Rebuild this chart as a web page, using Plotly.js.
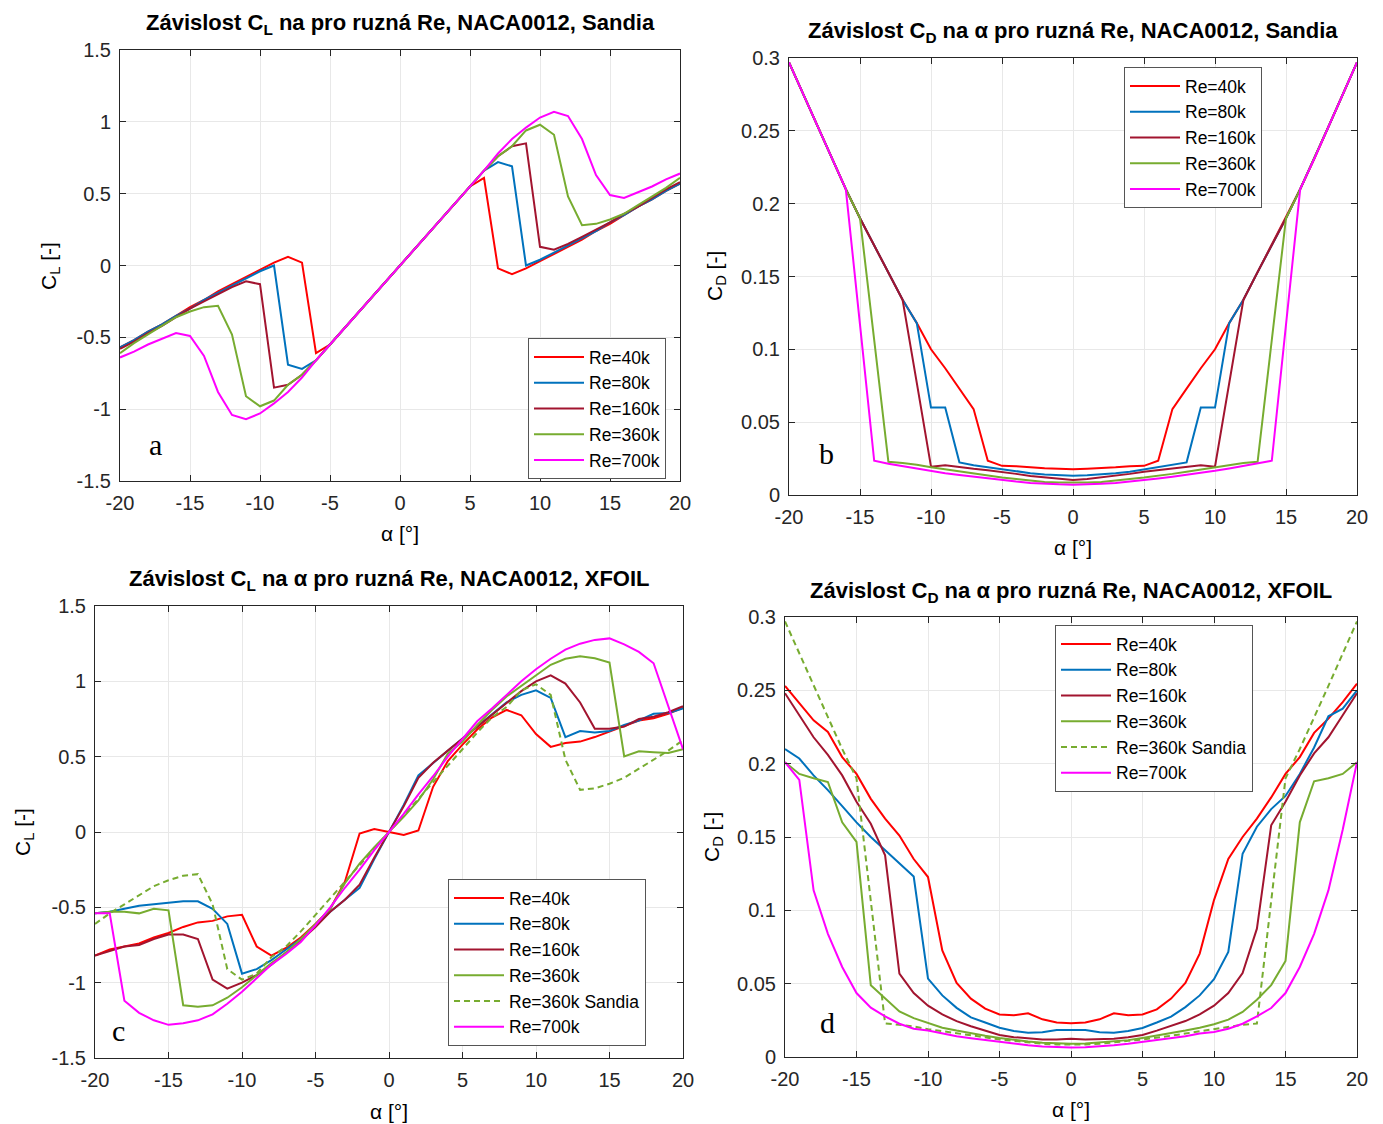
<!DOCTYPE html>
<html><head><meta charset="utf-8">
<script src="https://cdn.plot.ly/plotly-3.0.1.min.js"></script>
<style>body{margin:0;background:#fff}#chart{width:1383px;height:1124px}</style>
</head><body><div id="chart"></div>
<script>
// angle of attack [deg]
const alpha = [-20,-19,-18,-17,-16,-15,-14,-13,-12,-11,-10,-9,-8,-7,-6,-5,-4,-3,-2,-1,0,1,2,3,4,5,6,7,8,9,10,11,12,13,14,15,16,17,18,19,20];

// (a) Sandia CL
const clSandia40k  = [-0.57,-0.52,-0.46,-0.41,-0.35,-0.29,-0.24,-0.18,-0.13,-0.08,-0.03,0.02,0.06,0.02,-0.61,-0.55,-0.44,-0.33,-0.22,-0.11,0,0.11,0.22,0.33,0.44,0.55,0.61,-0.02,-0.06,-0.02,0.03,0.08,0.13,0.18,0.24,0.29,0.35,0.41,0.46,0.52,0.57];
const clSandia80k  = [-0.57,-0.52,-0.46,-0.41,-0.35,-0.30,-0.24,-0.19,-0.14,-0.09,-0.04,0.0,-0.69,-0.72,-0.66,-0.55,-0.44,-0.33,-0.22,-0.11,0,0.11,0.22,0.33,0.44,0.55,0.66,0.72,0.69,0.0,0.04,0.09,0.14,0.19,0.24,0.30,0.35,0.41,0.46,0.52,0.57];
const clSandia160k = [-0.58,-0.53,-0.47,-0.42,-0.36,-0.30,-0.25,-0.20,-0.15,-0.11,-0.13,-0.85,-0.83,-0.76,-0.66,-0.55,-0.44,-0.33,-0.22,-0.11,0,0.11,0.22,0.33,0.44,0.55,0.66,0.76,0.83,0.85,0.13,0.11,0.15,0.20,0.25,0.30,0.36,0.41,0.47,0.53,0.58];
const clSandia360k = [-0.61,-0.54,-0.48,-0.42,-0.36,-0.32,-0.29,-0.28,-0.48,-0.91,-0.98,-0.94,-0.83,-0.76,-0.66,-0.55,-0.44,-0.33,-0.22,-0.11,0,0.11,0.22,0.33,0.44,0.55,0.66,0.76,0.83,0.94,0.98,0.91,0.48,0.28,0.29,0.32,0.36,0.42,0.48,0.54,0.61];
const clSandia700k = [-0.64,-0.60,-0.55,-0.51,-0.47,-0.49,-0.63,-0.88,-1.04,-1.07,-1.03,-0.96,-0.88,-0.78,-0.66,-0.55,-0.44,-0.33,-0.22,-0.11,0,0.11,0.22,0.33,0.44,0.55,0.66,0.78,0.88,0.96,1.03,1.07,1.04,0.88,0.63,0.49,0.47,0.51,0.55,0.60,0.64];

// (b) Sandia CD
const cdSandia40k  = [0.297,0.275,0.253,0.231,0.21,0.19,0.1715,0.153,0.134,0.118,0.100,0.087,0.073,0.059,0.0235,0.020,0.0198,0.019,0.0184,0.018,0.0176,0.018,0.0184,0.019,0.0198,0.020,0.0235,0.059,0.073,0.087,0.100,0.118,0.134,0.153,0.1715,0.19,0.21,0.231,0.253,0.275,0.297];
const cdSandia80k  = [0.297,0.275,0.253,0.231,0.21,0.19,0.1715,0.153,0.134,0.118,0.060,0.060,0.0224,0.0205,0.019,0.0175,0.016,0.015,0.014,0.0135,0.0132,0.0135,0.014,0.015,0.016,0.0175,0.019,0.0205,0.0224,0.060,0.060,0.118,0.134,0.153,0.1715,0.19,0.21,0.231,0.253,0.275,0.297];
const cdSandia160k = [0.297,0.275,0.253,0.231,0.21,0.19,0.1715,0.153,0.134,0.077,0.0194,0.0205,0.019,0.018,0.017,0.016,0.0145,0.013,0.012,0.011,0.0103,0.011,0.012,0.013,0.0145,0.016,0.017,0.018,0.019,0.0205,0.0194,0.077,0.134,0.153,0.1715,0.19,0.21,0.231,0.253,0.275,0.297];
const cdSandia360k = [0.297,0.275,0.253,0.231,0.21,0.19,0.106,0.0228,0.022,0.0208,0.019,0.0175,0.016,0.0145,0.013,0.012,0.011,0.0098,0.009,0.0086,0.0084,0.0086,0.009,0.0098,0.011,0.012,0.013,0.0145,0.016,0.0175,0.019,0.0208,0.022,0.0228,0.106,0.19,0.21,0.231,0.253,0.275,0.297];
const cdSandia700k = [0.297,0.275,0.253,0.231,0.21,0.117,0.0235,0.0215,0.0198,0.0182,0.0166,0.015,0.0137,0.0125,0.0113,0.0102,0.0092,0.0083,0.0077,0.0073,0.0071,0.0073,0.0077,0.0083,0.0092,0.0102,0.0113,0.0125,0.0137,0.015,0.0166,0.0182,0.0198,0.0215,0.0235,0.117,0.21,0.231,0.253,0.275,0.297];

// (c) XFOIL CL
const clXfoil40k  = [-0.82,-0.78,-0.76,-0.74,-0.70,-0.67,-0.63,-0.60,-0.59,-0.56,-0.55,-0.76,-0.82,-0.77,-0.70,-0.61,-0.51,-0.33,-0.01,0.02,0.0,-0.02,0.01,0.30,0.47,0.58,0.68,0.76,0.81,0.775,0.65,0.565,0.59,0.60,0.63,0.665,0.70,0.74,0.755,0.785,0.825];
const clXfoil80k  = [-0.54,-0.53,-0.51,-0.49,-0.48,-0.47,-0.46,-0.46,-0.51,-0.61,-0.94,-0.91,-0.85,-0.78,-0.71,-0.62,-0.53,-0.45,-0.37,-0.18,0,0.18,0.375,0.46,0.54,0.62,0.70,0.78,0.86,0.91,0.94,0.89,0.63,0.67,0.66,0.67,0.71,0.74,0.785,0.79,0.82];
const clXfoil160k = [-0.82,-0.79,-0.76,-0.75,-0.71,-0.68,-0.68,-0.71,-0.98,-1.04,-1.0,-0.95,-0.88,-0.80,-0.72,-0.63,-0.53,-0.45,-0.35,-0.17,0,0.17,0.36,0.46,0.54,0.62,0.70,0.78,0.86,0.935,1.0,1.04,0.985,0.86,0.685,0.685,0.70,0.75,0.765,0.795,0.835];
const clXfoil360k = [-0.54,-0.53,-0.53,-0.54,-0.51,-0.52,-1.15,-1.16,-1.15,-1.10,-1.03,-0.95,-0.87,-0.80,-0.71,-0.61,-0.51,-0.34,-0.21,-0.10,0,0.10,0.21,0.35,0.52,0.60,0.71,0.81,0.90,0.97,1.035,1.11,1.15,1.167,1.153,1.124,0.502,0.536,0.529,0.524,0.55];
const clXfoil700k = [-0.54,-0.54,-1.12,-1.20,-1.25,-1.28,-1.27,-1.25,-1.21,-1.14,-1.06,-0.97,-0.88,-0.81,-0.73,-0.62,-0.50,-0.37,-0.25,-0.12,0,0.12,0.25,0.37,0.50,0.62,0.735,0.82,0.91,1.0,1.08,1.15,1.21,1.25,1.275,1.285,1.245,1.195,1.12,0.84,0.55];

// (d) XFOIL CD
const cdXfoil40k  = [0.253,0.241,0.2295,0.2216,0.2045,0.193,0.176,0.1625,0.151,0.135,0.1227,0.0727,0.0505,0.0398,0.033,0.029,0.0284,0.0298,0.0257,0.0236,0.023,0.0236,0.0257,0.0298,0.0284,0.029,0.0325,0.0398,0.0505,0.0705,0.107,0.135,0.15,0.1625,0.177,0.193,0.2045,0.221,0.2307,0.242,0.2545];
const cdXfoil80k  = [0.21,0.2035,0.192,0.182,0.171,0.160,0.150,0.141,0.132,0.123,0.0534,0.042,0.0335,0.027,0.0235,0.020,0.0177,0.0166,0.0168,0.0184,0.0184,0.0184,0.0168,0.0166,0.0177,0.0198,0.0235,0.0275,0.034,0.042,0.053,0.0716,0.1386,0.157,0.169,0.178,0.193,0.211,0.2323,0.2375,0.25];
const cdXfoil160k = [0.248,0.233,0.218,0.206,0.192,0.174,0.159,0.1375,0.0568,0.0436,0.035,0.029,0.0245,0.021,0.018,0.015,0.0135,0.0125,0.012,0.012,0.0125,0.012,0.012,0.0125,0.0135,0.015,0.018,0.021,0.0245,0.029,0.035,0.0436,0.0573,0.0875,0.158,0.174,0.192,0.207,0.218,0.233,0.248];
const cdXfoil360k = [0.201,0.193,0.19,0.1875,0.16,0.1466,0.0489,0.0398,0.031,0.0265,0.023,0.020,0.018,0.016,0.0145,0.013,0.0115,0.0105,0.0098,0.0092,0.009,0.0092,0.0098,0.0105,0.0115,0.013,0.0145,0.016,0.018,0.020,0.0223,0.0255,0.0307,0.039,0.049,0.0655,0.16,0.188,0.19,0.193,0.201];
const cdXfoil700k = [0.201,0.189,0.1136,0.084,0.0614,0.0436,0.0336,0.0277,0.0227,0.0193,0.018,0.016,0.0142,0.0128,0.0115,0.0103,0.009,0.008,0.0072,0.0067,0.0065,0.0067,0.0072,0.008,0.009,0.0103,0.0115,0.0128,0.0142,0.016,0.017,0.0193,0.0227,0.0277,0.0334,0.0436,0.0614,0.084,0.1136,0.155,0.201];

const xTicks = [-20,-15,-10,-5,0,5,10,15,20];
const xTickText = ['-20','-15','-10','-5','0','5','10','15','20'];
const clTicks = [-1.5,-1,-0.5,0,0.5,1,1.5];
const clTickText = ['-1.5','-1','-0.5','0','0.5','1','1.5'];
const cdTicks = [0,0.05,0.1,0.15,0.2,0.25,0.3];
const cdTickText = ['0','0.05','0.1','0.15','0.2','0.25','0.3'];

const names = ['Re=40k','Re=80k','Re=160k','Re=360k','Re=700k'];
const colors = ['#ff0000','#0072bd','#a2142f','#77ac30','#ff00ff'];

const FONT = 'Liberation Sans, Arial, sans-serif';
const SERIF = 'Liberation Serif, Times New Roman, serif';
const traces = [];
function add(y, name, color, xa, ya, leg, dash){
  traces.push({x: alpha, y: y, name: name, type:'scatter', mode:'lines',
    line:{color: color, width: 2, dash: dash || 'solid'},
    xaxis: xa, yaxis: ya, legend: leg, showlegend: true});
}
const clS = [clSandia40k, clSandia80k, clSandia160k, clSandia360k, clSandia700k];
const cdS = [cdSandia40k, cdSandia80k, cdSandia160k, cdSandia360k, cdSandia700k];
const clX = [clXfoil40k, clXfoil80k, clXfoil160k, clXfoil360k, clXfoil700k];
const cdX = [cdXfoil40k, cdXfoil80k, cdXfoil160k, cdXfoil360k, cdXfoil700k];
for (let i=0;i<5;i++) add(clS[i], names[i], colors[i], 'x', 'y', 'legend');
for (let i=0;i<5;i++) add(cdS[i], names[i], colors[i], 'x2', 'y2', 'legend2');
for (let i=0;i<4;i++) add(clX[i], names[i], colors[i], 'x3', 'y3', 'legend3');
add(clSandia360k, 'Re=360k Sandia', colors[3], 'x3', 'y3', 'legend3', '6px,4px');
add(clX[4], names[4], colors[4], 'x3', 'y3', 'legend3');
for (let i=0;i<4;i++) add(cdX[i], names[i], colors[i], 'x4', 'y4', 'legend4');
add(cdSandia360k, 'Re=360k Sandia', colors[3], 'x4', 'y4', 'legend4', '6px,4px');
add(cdX[4], names[4], colors[4], 'x4', 'y4', 'legend4');

const common = {ticks:'inside', ticklen:6, tickcolor:'#262626', showline:true, linecolor:'#262626', linewidth:1,
  mirror:'ticks', showgrid:true, gridcolor:'#e8e8e8', zeroline:false,
  tickfont:{family:FONT, size:20, color:'#262626'}, fixedrange:true};
function xax(dom, anchor){
  return Object.assign({domain: dom, anchor: anchor, range:[-20,20], tickmode:'array', tickvals: xTicks,
    ticktext: xTickText, ticklabelstandoff: 4}, common);
}
function yax(dom, anchor, rng, tv, tt){
  return Object.assign({domain: dom, anchor: anchor, range: rng, tickmode:'array', tickvals: tv,
    ticktext: tt, ticklabelstandoff: 4}, common);
}
function leg(x, y){
  return {x: x, y: y, xanchor:'left', yanchor:'top', bgcolor:'#ffffff', bordercolor:'#555555', borderwidth:1,
    font:{family:FONT, size:17.5, color:'#000'}, tracegroupgap:0, itemwidth:50};
}
const W = 1383, H = 1124;
const px = v => v / W, py = v => 1 - v / H;
function ann(text, x, y, opts){
  return Object.assign({text: text, x: px(x), y: py(y), xref:'paper', yref:'paper', showarrow:false,
    xanchor:'center', yanchor:'middle', font:{family:FONT, size:21, color:'#000'}}, opts || {});
}
const TF = {family:FONT, size:22, color:'#000'};
const LF = {family:SERIF, size:30, color:'#000'};
const layout = {
  width: W, height: H, margin:{l:0, r:0, t:0, b:0}, paper_bgcolor:'#fff', plot_bgcolor:'#fff',
  xaxis: xax([px(120), px(680)], 'y'),
  yaxis: yax([py(481), py(50)], 'x', [-1.5,1.5], clTicks, clTickText),
  xaxis2: xax([px(789), px(1357)], 'y2'),
  yaxis2: yax([py(495), py(58)], 'x2', [0,0.3], cdTicks, cdTickText),
  xaxis3: xax([px(95), px(683)], 'y3'),
  yaxis3: yax([py(1058), py(606)], 'x3', [-1.5,1.5], clTicks, clTickText),
  xaxis4: xax([px(785), px(1357)], 'y4'),
  yaxis4: yax([py(1057), py(617)], 'x4', [0,0.3], cdTicks, cdTickText),
  legend: leg(px(528), py(338)),
  legend2: leg(px(1124), py(67)),
  legend3: leg(px(448), py(879)),
  legend4: leg(px(1055), py(625)),
  annotations: [
    ann('<b>Závislost C<sub>L</sub> na pro ruzná Re, NACA0012, Sandia</b>', 400, 24, {font: TF}),
    ann('<b>Závislost C<sub>D</sub> na α pro ruzná Re, NACA0012, Sandia</b>', 1073, 32, {font: TF}),
    ann('<b>Závislost C<sub>L</sub> na α pro ruzná Re, NACA0012, XFOIL</b>', 389, 580, {font: TF}),
    ann('<b>Závislost C<sub>D</sub> na α pro ruzná Re, NACA0012, XFOIL</b>', 1071, 592, {font: TF}),
    ann('α [°]', 400, 533),
    ann('α [°]', 1073, 547),
    ann('α [°]', 389, 1111),
    ann('α [°]', 1071, 1109),
    ann('C<sub>L</sub> [-]', 50, 266, {textangle:-90}),
    ann('C<sub>D</sub> [-]', 716, 276, {textangle:-90}),
    ann('C<sub>L</sub> [-]', 24, 832, {textangle:-90}),
    ann('C<sub>D</sub> [-]', 713, 837, {textangle:-90}),
    ann('a', 155, 445, {font: LF}),
    ann('b', 826, 453, {font: LF}),
    ann('c', 118, 1030, {font: LF}),
    ann('d', 827, 1022, {font: LF})
  ]
};
Plotly.newPlot('chart', traces, layout, {displayModeBar:false, staticPlot:true});
</script>
</body></html>
